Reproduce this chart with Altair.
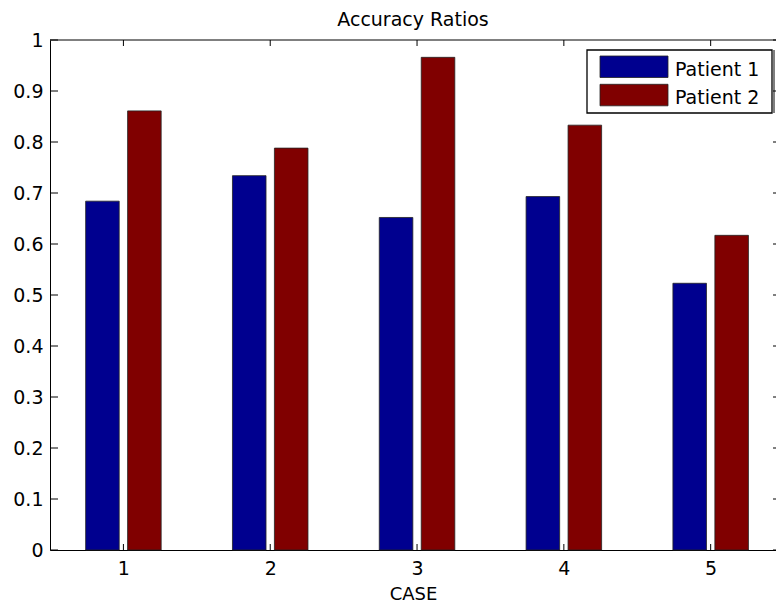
import altair as alt
import pandas as pd

# Accuracy per case for each patient
cases = [1, 2, 3, 4, 5]
series = ["Patient 1", "Patient 2"]
patient1 = [0.684, 0.734, 0.652, 0.693, 0.523]
patient2 = [0.861, 0.788, 0.966, 0.833, 0.617]
colors = ["#00008F", "#800000"]

y_ticks = [0, 0.1, 0.2, 0.3, 0.4, 0.5, 0.6, 0.7, 0.8, 0.9, 1]
x_ticks = [1, 2, 3, 4, 5]

title_text = "Accuracy Ratios"
x_title = "CASE"

FONT = "DejaVu Sans"
W, H = 726, 510

rows = []
for i, c in enumerate(cases):
    rows.append({"case": c, "series": series[0], "idx": 0, "value": patient1[i]})
    rows.append({"case": c, "series": series[1], "idx": 1, "value": patient2[i]})
df = pd.DataFrame(rows)

xscale = alt.Scale(domain=[0.5, 5.445], nice=False, zero=False)
yscale = alt.Scale(domain=[0, 1], nice=False, zero=False)

x_axis = alt.Axis(
    values=x_ticks, format="d", title=x_title, labelPadding=9, titlePadding=7,
)
y_axis = alt.Axis(
    values=y_ticks, format="~g", title=None, labelPadding=7,
)

# grouped bars: two series around each case, MATLAB-style spacing
bars = (
    alt.Chart(df)
    .transform_calculate(
        off="datum.idx == 0 ? -0.1429 : 0.1429",
    )
    .transform_calculate(
        x0="datum.case + datum.off - 0.1143",
        x1="datum.case + datum.off + 0.1143",
    )
    .mark_bar(stroke="#222222", strokeWidth=0.8)
    .encode(
        x=alt.X("x0:Q", scale=xscale, axis=x_axis),
        x2="x1:Q",
        y=alt.Y("value:Q", scale=yscale, axis=y_axis),
        y2=alt.datum(0),
        color=alt.Color("series:N", scale=alt.Scale(domain=series, range=colors), legend=None),
    )
)

ydf = pd.DataFrame({"v": y_ticks})
xdf = pd.DataFrame({"v": x_ticks})

# inward tick marks on all four sides
left_ticks = alt.Chart(ydf).mark_rule(color="black", strokeWidth=1).encode(
    y=alt.Y("v:Q", scale=yscale), x=alt.value(0), x2=alt.value(8)
)
right_ticks = alt.Chart(ydf).mark_rule(color="black", strokeWidth=1).encode(
    y=alt.Y("v:Q", scale=yscale), x=alt.value(W - 3), x2=alt.value(W)
)
top_ticks = alt.Chart(xdf).mark_rule(color="black", strokeWidth=1).encode(
    x=alt.X("v:Q", scale=xscale), y=alt.value(0), y2=alt.value(6)
)
bottom_ticks = alt.Chart(xdf).mark_rule(color="black", strokeWidth=1).encode(
    x=alt.X("v:Q", scale=xscale), y=alt.value(H - 6), y2=alt.value(H)
)
top_line = alt.Chart(pd.DataFrame({"a": [0]})).mark_rule(color="black", strokeWidth=1).encode(
    x=alt.value(0), x2=alt.value(W), y=alt.value(0)
)

title = alt.Chart(pd.DataFrame({"t": [title_text]})).mark_text(
    font=FONT, fontSize=19, color="black", baseline="alphabetic", align="center"
).encode(text="t:N", x=alt.value(W / 2), y=alt.value(-14))

# legend box in the upper right corner
sdf = pd.DataFrame({"series": series, "idx": [0, 1]})
legend_box = alt.Chart(pd.DataFrame({"a": [0]})).mark_rect(
    fill="white", stroke="black", strokeWidth=1.3
).encode(x=alt.value(537), x2=alt.value(722), y=alt.value(10), y2=alt.value(73))
legend_edge = alt.Chart(pd.DataFrame({"a": [0]})).mark_rule(
    color="black", strokeWidth=1
).encode(x=alt.value(724), y=alt.value(10), y2=alt.value(73))

legend_layers = [legend_box, legend_edge]
for i, s in enumerate(series):
    top = 16 + i * 28.3
    sw = alt.Chart(sdf).transform_filter(alt.datum.series == s).mark_rect(
        stroke="#222222", strokeWidth=0.8
    ).encode(
        x=alt.value(550), x2=alt.value(618), y=alt.value(top), y2=alt.value(top + 21.5),
        color=alt.Color("series:N", scale=alt.Scale(domain=series, range=colors), legend=None),
    )
    lab = alt.Chart(sdf).transform_filter(alt.datum.series == s).mark_text(
        font=FONT, fontSize=19, color="black", align="left", baseline="alphabetic"
    ).encode(text="series:N", x=alt.value(625), y=alt.value(top + 20))
    legend_layers += [sw, lab]

chart = (
    alt.layer(bars, left_ticks, right_ticks, top_ticks, bottom_ticks, top_line, title, *legend_layers)
    .properties(
        width=W, height=H,
        autosize=alt.AutoSizeParams(type="none"),
        padding={"left": 50, "top": 40, "right": 0, "bottom": 58},
        background="white",
    )
    .configure_view(stroke=None)
    .configure_axis(
        grid=False, ticks=False, tickSize=0, labelFlush=False,
        labelFont=FONT, labelFontSize=19, labelColor="black",
        titleFont=FONT, titleFontSize=18, titleFontWeight="normal", titleColor="black",
        domainColor="black", domainWidth=1,
    )
)

chart.save("out.html", embed_options={"renderer": "svg", "actions": False})
